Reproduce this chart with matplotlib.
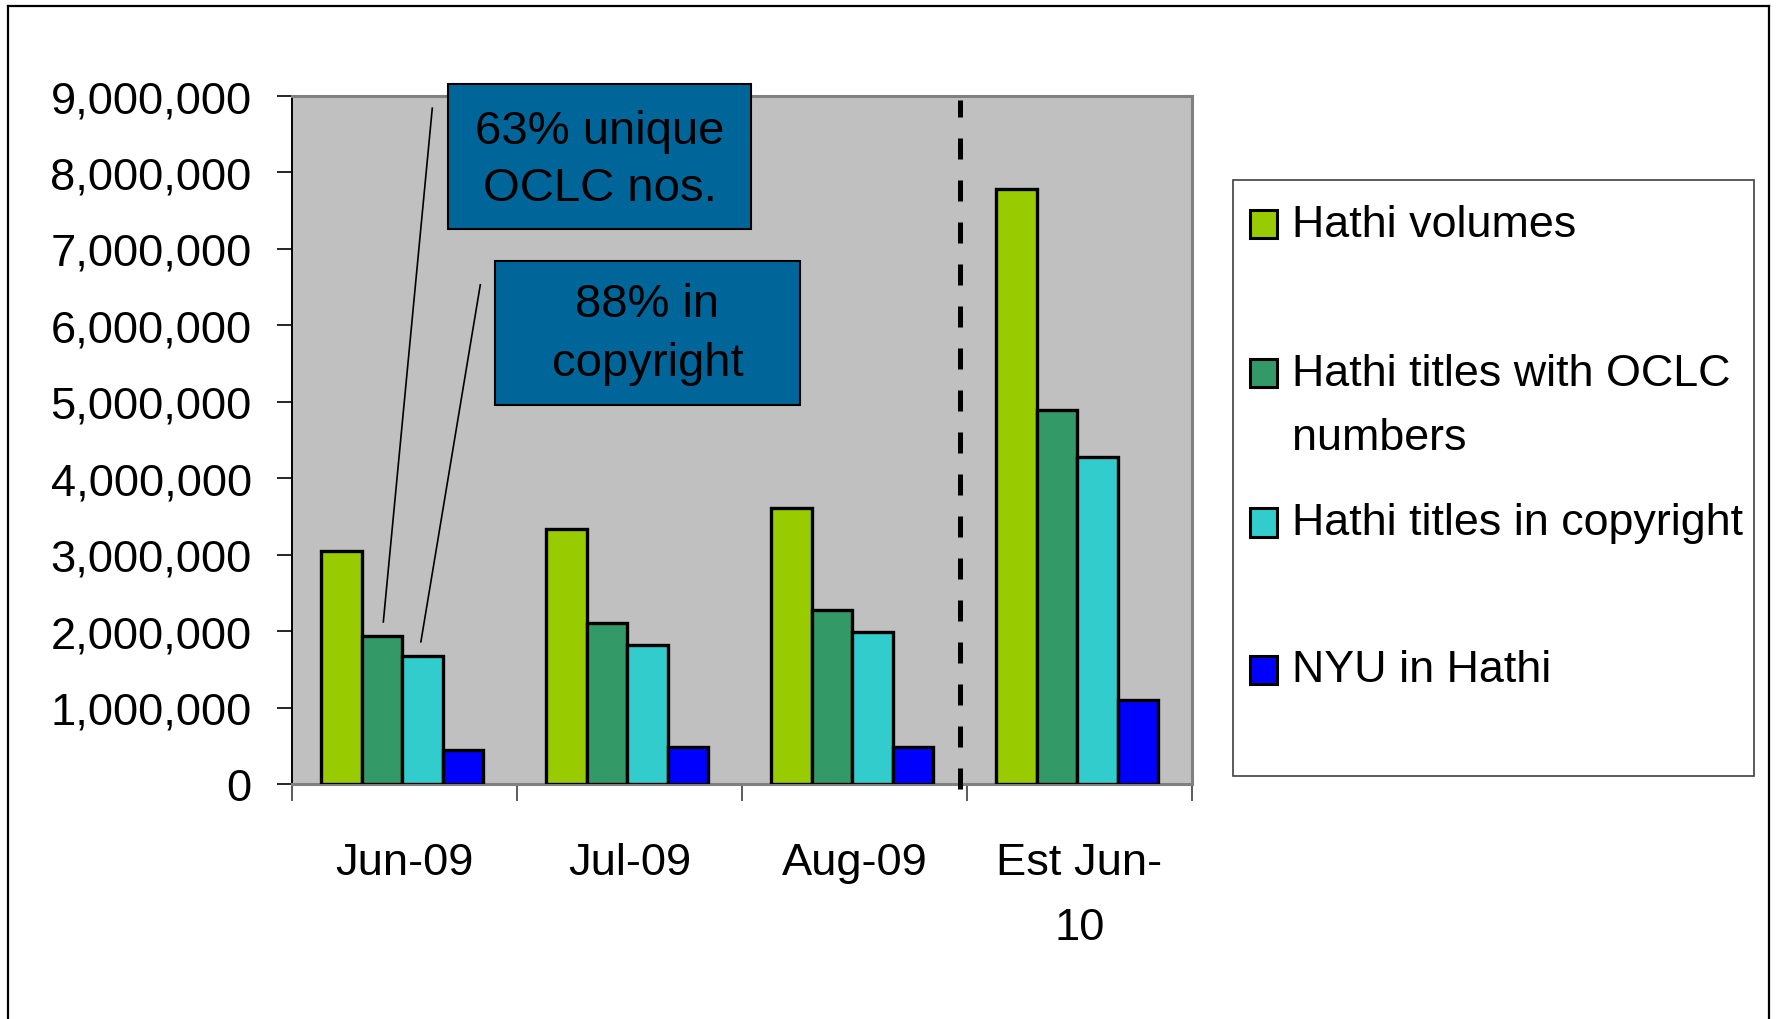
import matplotlib

matplotlib.use("Agg")

import matplotlib.pyplot as plt
import numpy as np
from matplotlib.lines import Line2D
from matplotlib.patches import Rectangle
from matplotlib.ticker import FuncFormatter, FixedLocator

plt.rcParams["font.family"] = ["Liberation Sans", "DejaVu Sans"]

categories = ["Jun-09", "Jul-09", "Aug-09", "Est Jun-\n10"]
series_names = [
    "Hathi volumes",
    "Hathi titles with OCLC\nnumbers",
    "Hathi titles in copyright",
    "NYU in Hathi",
]
hathi_volumes = [3050000, 3330000, 3610000, 7780000]
hathi_oclc = [1940000, 2110000, 2270000, 4890000]
hathi_copyright = [1670000, 1820000, 1990000, 4280000]
nyu_in_hathi = [440000, 490000, 490000, 1100000]
series_colors = ["#99CC00", "#339966", "#33CCCC", "#0000FF"]

note_oclc = "63% unique\nOCLC nos."
note_copyright = "88% in\ncopyright"

FONT = 32.6
BOX_BLUE = "#006699"

fig = plt.figure(figsize=(17.77, 10.20), dpi=100)
ax = fig.add_axes([0.1643, 0.2304, 0.5065, 0.6745])
ax.set_facecolor("#C0C0C0")

x = np.arange(len(categories))
width = 0.18
all_series = [hathi_volumes, hathi_oclc, hathi_copyright, nyu_in_hathi]
for i, (values, color) in enumerate(zip(all_series, series_colors)):
    offset = (i - 1.5) * width - 0.01
    ax.bar(x + offset, values, width, color=color, edgecolor="black",
           linewidth=2.4, zorder=3)

ax.set_xlim(-0.5, 3.5)
ax.set_ylim(0, 9000000)

# y axis
ax.set_yticks(np.arange(0, 9000001, 1000000))
ax.yaxis.set_major_formatter(FuncFormatter(lambda v, _: f"{int(v):,}"))
ax.tick_params(axis="y", length=11, width=1.2, pad=18, labelsize=FONT,
               direction="out", color="black")

# x axis: labels at centres, tick marks at category boundaries
ax.set_xticks(x)
ax.set_xticklabels(categories)
ax.xaxis.set_minor_locator(FixedLocator(np.arange(-0.5, 3.6, 1.0)))
ax.tick_params(axis="x", which="major", length=0, pad=42, labelsize=FONT)
ax.tick_params(axis="x", which="minor", length=12.5, width=1.2,
               direction="out", color="#404040")
for lbl in ax.get_xticklabels():
    lbl.set_linespacing(1.75)

for side in ["top", "right", "bottom"]:
    ax.spines[side].set_color("#808080")
    ax.spines[side].set_linewidth(2.2)
ax.spines["left"].set_color("black")
ax.spines["left"].set_linewidth(1.4)

# divider between actual and estimated figures
ax.plot([2.47, 2.47], [-60000, 8950000], color="black", lw=3.6,
        dashes=(4.2, 4.2), zorder=4, clip_on=False)

# callout leader lines
ax.plot([0.1236, -0.094], [8840000, 2120000], color="black", lw=1.2, zorder=5)
ax.plot([0.337, 0.073], [6530000, 1860000], color="black", lw=1.2, zorder=5)

# callout boxes
ax.add_patch(Rectangle((0.193, 7260000), 1.347, 1900000, facecolor=BOX_BLUE,
                       edgecolor="black", linewidth=1.5, zorder=6, clip_on=False))
ax.text(0.8665, 8170000, note_oclc, ha="center", va="center", fontsize=34,
        linespacing=1.4, zorder=7)
ax.add_patch(Rectangle((0.402, 4960000), 1.356, 1880000, facecolor=BOX_BLUE,
                       edgecolor="black", linewidth=1.5, zorder=6, clip_on=False))
ax.text(1.08, 5890000, note_copyright, ha="center", va="center", fontsize=34,
        linespacing=1.45, zorder=7)

# legend drawn by hand to keep the uneven entry spacing
fig.patches.append(Rectangle((0.6939, 0.2382), 0.2932, 0.5843, transform=fig.transFigure,
                             facecolor="white", edgecolor="#404040", linewidth=1.2))
marker_y = [0.7789, 0.6333, 0.4867, 0.3422]
text_y = [0.7789, 0.6010, 0.4867, 0.3422]
for name, color, my, ty in zip(series_names, series_colors, marker_y, text_y):
    fig.patches.append(Rectangle((0.7035, my - 0.0137), 0.0152, 0.0275,
                                 transform=fig.transFigure, facecolor=color,
                                 edgecolor="black", linewidth=2.2))
    fig.text(0.7271, ty, name, ha="left", va="center", fontsize=32.3,
             linespacing=1.72)

# outer frame of the slide
for xs, ys in [([0.0045, 0.0045], [0.0, 0.9931]),
               ([0.0045, 0.9955], [0.9931, 0.9931]),
               ([0.9955, 0.9955], [0.9931, 0.0])]:
    fig.lines.append(Line2D(xs, ys, transform=fig.transFigure, color="black", lw=1.6))

fig.savefig("out.png", dpi=100)
